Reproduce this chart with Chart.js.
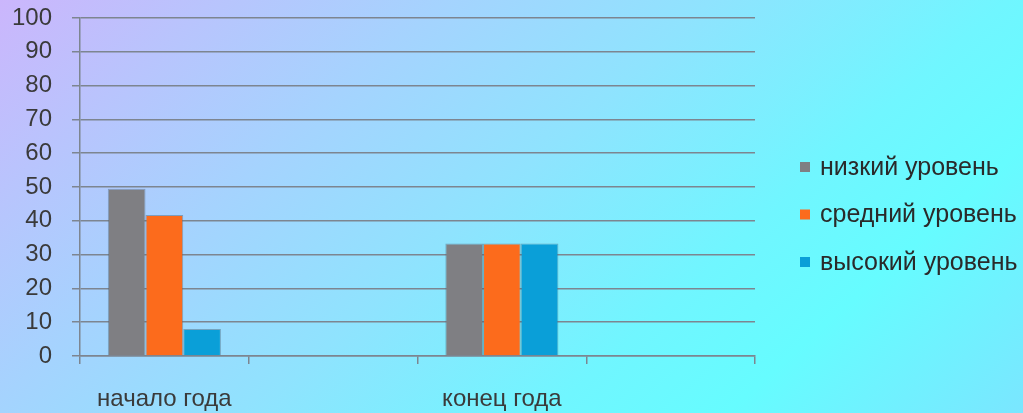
<!DOCTYPE html>
<html>
<head>
<meta charset="utf-8">
<script src="https://cdn.jsdelivr.net/npm/chart.js@4/dist/chart.umd.min.js"></script>
<style>
  html, body { margin: 0; padding: 0; }
  body {
    width: 1023px; height: 413px; overflow: hidden;
    background: linear-gradient(138deg, #cbb6fc 0%, #a5d3fe 30%, #8fe3fe 48%, #70f6ff 68%, #66fcff 80%, #7ae6ff 100%);
  }
  #wrap { position: relative; width: 1023px; height: 413px; }
</style>
</head>
<body>
<div id="wrap"><canvas id="chart"></canvas></div>
<script>
'use strict';

/* ── Data ───────────────────────────────────────────── */
const categories = ['начало года', '', 'конец года', ''];
const lowLevel   = [49.5, null, 33.3, null];
const midLevel   = [41.7, null, 33.3, null];
const highLevel  = [8,    null, 33.3, null];
const seriesNames = ['низкий уровень', 'средний уровень', 'высокий уровень'];
const yTicks = [0, 10, 20, 30, 40, 50, 60, 70, 80, 90, 100];

const COLORS = ['#7f7f83', '#fc6b1c', '#0a9fd8'];
const FONT = '"Liberation Sans", Arial, sans-serif';
const GRID = '#7d8590';

/* ── Legend drawn on canvas ─────────────────────────── */
const sideLegend = {
  id: 'sideLegend',
  afterDraw(chart) {
    const ctx = chart.ctx;
    ctx.save();
    ctx.font = `25px ${FONT}`;
    ctx.textBaseline = 'middle';
    ctx.textAlign = 'left';
    chart.data.datasets.forEach((ds, i) => {
      const y = 167 + i * 47.5;
      ctx.fillStyle = ds.backgroundColor;
      ctx.fillRect(800, y - 5, 10, 10);
      ctx.fillStyle = '#2a2a2a';
      ctx.fillText(ds.label, 820, y + 1);
    });
    ctx.restore();
  }
};

const dsOpts = { borderWidth: 1, borderColor: 'rgba(70,95,115,0.45)', barPercentage: 1, categoryPercentage: 0.67 };

new Chart(document.getElementById('chart'), {
  type: 'bar',
  data: {
    labels: categories,
    datasets: [
      { label: seriesNames[0], data: lowLevel,  backgroundColor: COLORS[0], ...dsOpts },
      { label: seriesNames[1], data: midLevel,  backgroundColor: COLORS[1], ...dsOpts },
      { label: seriesNames[2], data: highLevel, backgroundColor: COLORS[2], ...dsOpts }
    ]
  },
  options: {
    responsive: true,
    maintainAspectRatio: false,
    animation: false,
    layout: { padding: { left: 0, top: 18, right: 268, bottom: 0 } },
    plugins: { legend: { display: false }, tooltip: { enabled: false } },
    scales: {
      x: {
        offset: true,
        grid: { offset: true, drawOnChartArea: false, drawTicks: true, tickLength: 8, color: GRID, lineWidth: 1.5 },
        border: { display: true, color: GRID, width: 1.5 },
        ticks: { font: { size: 24, family: FONT }, color: '#3a3a3a', padding: 21, maxRotation: 0, autoSkip: false },
        afterFit: s => { s.height = 57; }
      },
      y: {
        min: 0,
        max: 100,
        afterBuildTicks: s => { s.ticks = yTicks.map(v => ({ value: v })); },
        grid: { color: GRID, lineWidth: 1.5, tickLength: 8 },
        border: { display: true, color: GRID, width: 1.5 },
        ticks: { font: { size: 24, family: FONT }, color: '#3a3a3a', padding: 20 },
        afterFit: s => { s.width = 80; s.paddingTop = 0; s.paddingBottom = 0; }
      }
    }
  },
  plugins: [sideLegend]
});
</script>
</body>
</html>
